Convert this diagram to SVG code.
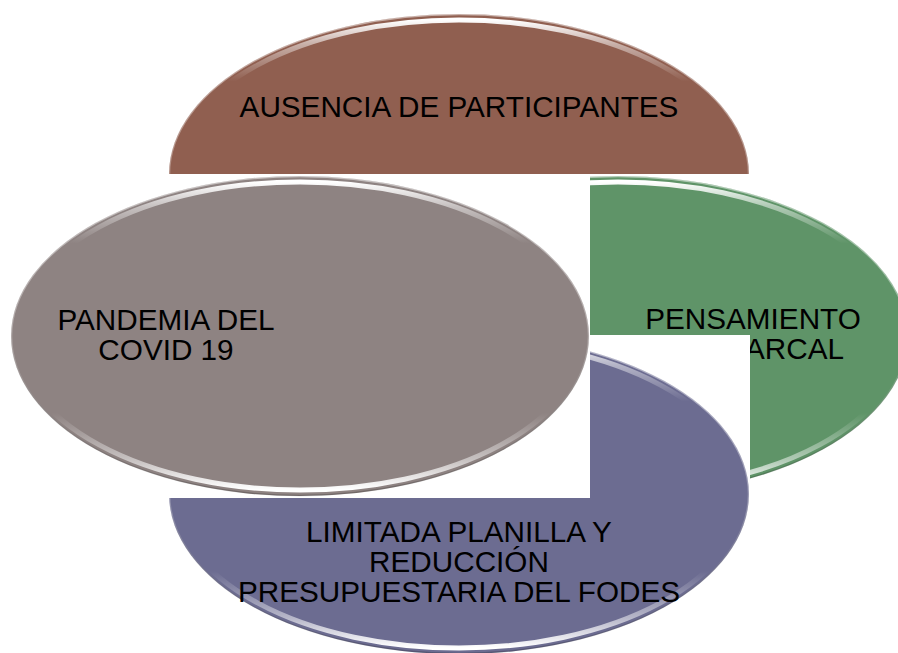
<svg xmlns="http://www.w3.org/2000/svg" width="898" height="653" viewBox="0 0 898 653">
<defs>
<linearGradient id="rim" x1="0" y1="0" x2="0" y2="1">
<stop offset="0" stop-color="#fff" stop-opacity="1"/>
<stop offset="0.08" stop-color="#fff" stop-opacity="0.5"/>
<stop offset="0.2" stop-color="#fff" stop-opacity="0"/>
<stop offset="0.75" stop-color="#fff" stop-opacity="0"/>
<stop offset="0.9" stop-color="#fff" stop-opacity="0.5"/>
<stop offset="1" stop-color="#fff" stop-opacity="1"/>
</linearGradient>
<linearGradient id="edge" x1="0" y1="0" x2="0" y2="1">
<stop offset="0" stop-color="#fff" stop-opacity="0.5"/>
<stop offset="0.5" stop-color="#fff" stop-opacity="0.3"/>
<stop offset="1" stop-color="#000" stop-opacity="0.2"/>
</linearGradient>
</defs>
<style>
.lbl{font-family:"Liberation Sans",Arial,sans-serif;font-size:29.7px;fill:#000;text-anchor:middle}
.bg{fill:#fff}
.rim{fill:none;stroke:url(#rim);stroke-width:5}
.edge{fill:none;stroke:url(#edge);stroke-width:1.5}
</style>
<rect width="898" height="653" fill="#fff"/>
<g id="node-ausencia">
<ellipse cx="459" cy="174" rx="290" ry="160" fill="#905F50"/>
<ellipse class="rim" cx="459" cy="174" rx="285" ry="154"/>
<ellipse class="edge" cx="459" cy="174" rx="289.5" ry="159.5"/>
<text class="lbl" x="459" y="117">AUSENCIA DE PARTICIPANTES</text>
</g>
<g id="node-pensamiento">
<rect class="bg" x="589" y="174" width="309" height="322"/>
<ellipse cx="618" cy="336" rx="290" ry="160" fill="#5F9468"/>
<ellipse class="rim" cx="618" cy="336" rx="285" ry="154"/>
<ellipse class="edge" cx="618" cy="336" rx="289.5" ry="159.5"/>
<text class="lbl" x="753" y="329">PENSAMIENTO</text>
<text class="lbl" x="753" y="359">PATRIARCAL</text>
</g>
<g id="node-limitada">
<rect class="bg" x="169" y="335" width="581" height="318"/>
<ellipse cx="459" cy="494" rx="290" ry="160" fill="#6C6C91"/>
<ellipse class="rim" cx="459" cy="494" rx="285" ry="154"/>
<ellipse class="edge" cx="459" cy="494" rx="289.5" ry="159.5"/>
<text class="lbl" x="459" y="542">LIMITADA PLANILLA Y</text>
<text class="lbl" x="459" y="572">REDUCCIÓN</text>
<text class="lbl" x="459" y="602">PRESUPUESTARIA DEL FODES</text>
</g>
<g id="node-pandemia">
<rect class="bg" x="169" y="174" width="421" height="324"/>
<ellipse cx="300" cy="336" rx="289" ry="160" fill="#8E8382"/>
<ellipse class="rim" cx="300" cy="336" rx="284" ry="154"/>
<ellipse class="edge" cx="300" cy="336" rx="288.5" ry="159.5"/>
<text class="lbl" x="166" y="330">PANDEMIA DEL</text>
<text class="lbl" x="166" y="360">COVID 19</text>
</g>
<g id="connectors"/>
</svg>
